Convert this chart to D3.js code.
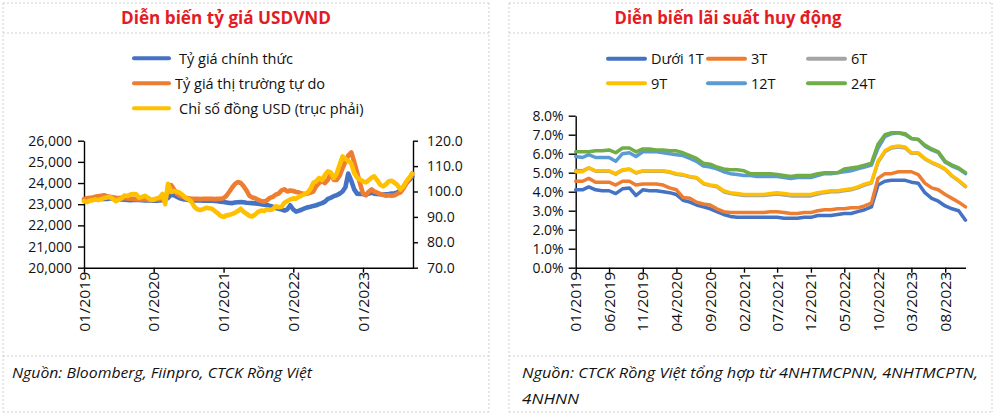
<!DOCTYPE html>
<html>
<head>
<meta charset="utf-8">
<script src="https://cdn.jsdelivr.net/npm/d3@7"></script>
<style>
body { margin: 0; background: #fff; }
svg { display: block; font-family: "Open Sans", sans-serif; }
.axis path, .axis line { stroke: #000; stroke-width: 1.4; }
.axis text { fill: #111; font-size: 14px; font-family: "Open Sans", sans-serif; }
</style>
</head>
<body>
<svg id="chart" width="1000" height="418"></svg>
<script>
// ---- left chart: exchange rate (semi-monthly, 01/2019 - 09/2023)
var fxNames = ["Tỷ giá chính thức", "Tỷ giá thị trường tự do", "Chỉ số đồng USD (trục phải)"];
var fxYearTicks = ["2019-01-01", "2020-01-01", "2021-01-01", "2022-01-01", "2023-01-01"];

var officialRate = [
    23190, 23200, 23210, 23220, 23230, 23240, 23250, 23260, 23250, 23270, 23280, 23260,
    23230, 23220, 23210, 23200, 23190, 23200, 23210, 23200, 23190, 23180, 23180, 23175,
    23170, 23170, 23180, 23190, 23200, 23300, 23450, 23420, 23350, 23280, 23240, 23220,
    23200, 23190, 23180, 23180, 23180, 23170, 23170, 23170, 23160, 23150, 23140, 23120,
    23100, 23080, 23060, 23050, 23080, 23090, 23100, 23090, 23070, 23060, 23050, 23040,
    23020, 23000, 22980, 22960, 22920, 22880, 22820, 22780, 22750, 22700, 22760, 22950,
    22750, 22650, 22700, 22750, 22800, 22850, 22880, 22920, 22950, 23000, 23050, 23120,
    23250, 23300, 23380, 23420, 23500, 23600, 23800, 24450, 24100, 23700, 23500, 23480,
    23480, 23450, 23500, 23550, 23500, 23480, 23470, 23460, 23470, 23480, 23500, 23520,
    23560, 23650, 23800, 24000, 24150, 24300
];
var freeRate = [
    23250, 23280, 23300, 23320, 23350, 23380, 23400, 23420, 23380, 23350, 23330, 23300,
    23290, 23300, 23280, 23270, 23260, 23250, 23240, 23230, 23220, 23220, 23210, 23200,
    23200, 23220, 23230, 23250, 23300, 23600, 23900, 23700, 23500, 23400, 23350, 23300,
    23280, 23260, 23250, 23250, 23240, 23250, 23260, 23250, 23250, 23240, 23250, 23260,
    23280, 23400, 23600, 23800, 23950, 24050, 24000, 23850, 23650, 23400, 23320, 23280,
    23200, 23150, 23120, 23180, 23300, 23350, 23450, 23500, 23650, 23700, 23600, 23650,
    23620, 23580, 23550, 23500, 23480, 23500, 23550, 23600, 23850, 24000, 24100, 24000,
    24150, 24450, 24150, 24150, 24350, 24700, 25000, 25300, 25450, 25000, 24500, 24000,
    23500, 23420, 23600, 23700, 23600, 23550, 23480, 23450, 23400, 23420, 23400, 23420,
    23500, 23560, 23750, 24000, 24200, 24450
];
var usdIndex = [
    96.2, 95.8, 96.4, 96.6, 96.9, 96.6, 97.0, 97.4, 97.6, 97.8, 97.2, 96.2,
    96.8, 97.3, 98.4, 98.2, 98.8, 99.0, 98.9, 97.5, 97.9, 98.3, 97.6, 96.8,
    96.8, 97.3, 97.6, 99.0, 95.0, 103.0, 99.8, 100.2, 99.9, 99.5, 98.6, 97.5,
    96.9, 96.0, 94.0, 93.0, 92.7, 93.0, 93.6, 93.4, 93.2, 92.3, 91.5, 90.4,
    90.0, 90.6, 90.8, 91.2, 91.6, 92.3, 93.2, 92.0, 91.3, 90.4, 90.2, 91.0,
    92.0, 92.5, 92.3, 93.0, 92.7, 93.0, 94.2, 93.8, 94.0, 95.6, 96.2, 96.9,
    97.3, 97.2, 98.0, 98.5, 99.0, 99.5, 101.0, 103.4, 104.0, 105.3, 104.5, 106.5,
    107.9, 107.5, 105.3, 107.0, 110.5, 113.8, 112.8, 112.0, 111.0, 107.3, 105.5, 104.7,
    104.0, 103.6, 104.5, 105.5, 106.0, 104.5, 102.7, 102.0, 102.8, 104.0, 104.2, 103.4,
    102.5, 100.8, 102.0, 104.0, 105.5, 107.0
];

// ---- right chart: deposit rates (monthly, 01/2019 - 11/2023), %
var rateNames = ["Dưới 1T", "3T", "6T", "9T", "12T", "24T"];
var rateColors = ["#4472c4", "#ed7d31", "#a5a5a5", "#ffc000", "#5b9bd5", "#70ad47"];

var rateUnder1 = [
    4.1, 4.1, 4.25, 4.1, 4.05, 4.05, 3.9, 4.15, 4.2, 3.8, 4.1, 4.05,
    4.05, 4.0, 3.95, 3.85, 3.55, 3.45, 3.3, 3.2, 3.1, 2.95, 2.8, 2.7,
    2.65, 2.65, 2.65, 2.65, 2.65, 2.65, 2.65, 2.6, 2.6, 2.6, 2.65, 2.65,
    2.75, 2.75, 2.75, 2.8, 2.85, 2.85, 2.95, 3.05, 3.2, 4.35, 4.55, 4.6,
    4.6, 4.6, 4.5, 4.45, 3.95, 3.65, 3.5, 3.25, 3.1, 3.0, 2.5
];
var rate3 = [
    4.55, 4.55, 4.7, 4.5, 4.5, 4.5, 4.35, 4.55, 4.55, 4.35, 4.4, 4.4,
    4.4, 4.35, 4.2, 4.1, 3.7, 3.65, 3.45, 3.35, 3.3, 3.1, 2.95, 2.9,
    2.9, 2.9, 2.9, 2.9, 2.9, 2.95, 2.95, 2.9, 2.85, 2.85, 2.9, 2.9,
    3.0, 3.05, 3.05, 3.1, 3.1, 3.15, 3.15, 3.25, 3.4, 4.7, 4.95, 4.95,
    5.05, 5.05, 5.05, 4.9, 4.45, 4.2, 4.1, 3.85, 3.65, 3.45, 3.2
];
var rate6 = [
    5.12, 5.1, 5.25, 5.08, 5.08, 5.08, 4.92, 5.13, 5.18, 4.98, 5.08, 5.08,
    5.08, 5.08, 5.02, 4.92, 4.87, 4.77, 4.72, 4.42, 4.32, 4.26, 4.0, 3.9,
    3.85, 3.8, 3.8, 3.8, 3.8, 3.84, 3.88, 3.83, 3.78, 3.77, 3.77, 3.78,
    3.88, 3.95, 4.0, 4.0, 4.05, 4.1, 4.2, 4.35, 4.46, 5.55, 6.1, 6.3,
    6.35, 6.3, 6.02, 6.02, 5.72, 5.52, 5.37, 5.17, 4.82, 4.57, 4.27
];
var rate9 = [
    5.05, 5.05, 5.25, 5.1, 5.1, 5.1, 4.95, 5.15, 5.2, 5.0, 5.1, 5.1,
    5.1, 5.1, 5.05, 4.95, 4.9, 4.8, 4.75, 4.45, 4.35, 4.3, 4.05, 3.95,
    3.9, 3.85, 3.85, 3.85, 3.85, 3.9, 3.95, 3.9, 3.85, 3.85, 3.85, 3.85,
    3.95, 4.0, 4.05, 4.05, 4.1, 4.15, 4.25, 4.4, 4.5, 5.6, 6.15, 6.35,
    6.4, 6.35, 6.05, 6.05, 5.75, 5.55, 5.4, 5.2, 4.85, 4.6, 4.3
];
var rate12 = [
    5.85, 5.8, 5.95, 5.8, 5.8, 5.8, 5.6, 6.0, 6.05, 5.85, 6.1, 6.1,
    6.1, 6.05, 6.0, 5.95, 5.9, 5.75, 5.6, 5.35, 5.3, 5.2, 5.05, 4.95,
    4.9, 4.85, 4.85, 4.8, 4.8, 4.8, 4.8, 4.75, 4.7, 4.75, 4.75, 4.75,
    4.85, 4.95, 4.95, 5.0, 5.05, 5.1, 5.2, 5.3, 5.4, 6.3, 6.9, 7.05,
    7.1, 7.0, 6.8, 6.75, 6.4, 6.2, 6.05, 5.55, 5.35, 5.2, 4.95
];
var rate24 = [
    6.1, 6.1, 6.1, 6.15, 6.15, 6.2, 6.05, 6.3, 6.3, 6.1, 6.25, 6.25,
    6.2, 6.2, 6.15, 6.15, 6.05, 5.9, 5.75, 5.5, 5.45, 5.3, 5.2, 5.15,
    5.15, 5.1, 4.95, 4.95, 4.95, 4.95, 4.9, 4.85, 4.8, 4.85, 4.85, 4.85,
    4.95, 5.0, 5.0, 5.0, 5.2, 5.25, 5.3, 5.4, 5.5, 6.5, 7.0, 7.1,
    7.1, 7.05, 6.8, 6.75, 6.45, 6.25, 6.1, 5.6, 5.4, 5.25, 5.0
];

var svg = d3.select("#chart");
var parse = d3.timeParse("%Y-%m-%d");
var fmtMonth = d3.timeFormat("%m/%Y");

// table borders
var grid = svg.append("g")
    .attr("stroke", "#cfcfcf")
    .attr("stroke-width", 1)
    .attr("stroke-dasharray", "2,2");
[[3, 489], [509, 992]].forEach(function (p) {
    [3, 33, 356, 412].forEach(function (y) {
        grid.append("line").attr("x1", p[0]).attr("x2", p[1]).attr("y1", y).attr("y2", y);
    });
    p.forEach(function (x) {
        grid.append("line").attr("x1", x).attr("x2", x).attr("y1", 3).attr("y2", 412);
    });
});

// titles
svg.append("text").attr("x", 226).attr("y", 24)
    .attr("text-anchor", "middle").attr("font-size", 17).attr("font-weight", "bold")
    .attr("fill", "#e31b23").attr("textLength", 210).attr("lengthAdjust", "spacingAndGlyphs")
    .text("Diễn biến tỷ giá USDVND");
svg.append("text").attr("x", 728).attr("y", 24)
    .attr("text-anchor", "middle").attr("font-size", 17).attr("font-weight", "bold")
    .attr("fill", "#e31b23").attr("textLength", 227).attr("lengthAdjust", "spacingAndGlyphs")
    .text("Diễn biến lãi suất huy động");

// footers
function footer(x, y, len, str) {
    svg.append("text").attr("x", x).attr("y", y)
        .attr("font-size", 14).attr("font-style", "italic").attr("fill", "#111")
        .attr("textLength", len).attr("lengthAdjust", "spacingAndGlyphs")
        .text(str);
}
footer(12, 378, 300, "Nguồn: Bloomberg, Fiinpro, CTCK Rồng Việt");
footer(522, 378, 456, "Nguồn:  CTCK Rồng Việt tổng hợp từ 4NHTMCPNN, 4NHTMCPTN,");
footer(522, 404, 57, "4NHNN");

// ================= left chart
var fxMonths = d3.timeMonth.range(new Date(2019, 0, 1), new Date(2023, 8, 1));
fxMonths.push(new Date(2023, 8, 1));
var fxDates = [];
fxMonths.forEach(function (m) { fxDates.push(m, d3.timeDay.offset(m, 15)); });

var xFx = d3.scaleTime().domain([parse("2019-01-01"), parse("2023-09-20")]).range([84, 413]);
var yVnd = d3.scaleLinear().domain([20000, 26000]).range([267.7, 140.7]);
var yUsd = d3.scaleLinear().domain([70, 120]).range([267.7, 140.7]);

function rotateLabels(g) {
    g.selectAll("text")
        .attr("transform", "rotate(-90)")
        .attr("x", -4).attr("y", 0).attr("dy", "0.36em")
        .attr("text-anchor", "end")
        .attr("textLength", 60).attr("lengthAdjust", "spacingAndGlyphs");
}

svg.append("g").attr("class", "axis")
    .attr("transform", "translate(84,0)")
    .call(d3.axisLeft(yVnd).tickValues(d3.range(20000, 26001, 1000))
        .tickFormat(d3.format(",")).tickSize(6).tickSizeOuter(0).tickPadding(6));
svg.append("g").attr("class", "axis")
    .attr("transform", "translate(413,0)")
    .call(d3.axisRight(yUsd).tickValues(d3.range(70, 121, 10))
        .tickFormat(d3.format(".1f")).tickSize(5).tickSizeOuter(0).tickPadding(9));
svg.append("g").attr("class", "axis")
    .attr("transform", "translate(0,267.7)")
    .call(d3.axisBottom(xFx).tickValues(fxYearTicks.map(parse))
        .tickFormat(fmtMonth).tickSize(5).tickSizeOuter(0))
    .call(rotateLabels);

var fxSeries = [
    { values: officialRate, y: yVnd, color: "#4472c4" },
    { values: freeRate, y: yVnd, color: "#ed7d31" },
    { values: usdIndex, y: yUsd, color: "#ffc000" }
];
fxSeries.forEach(function (s) {
    var line = d3.line()
        .x(function (d, i) { return xFx(fxDates[i]); })
        .y(function (d) { return s.y(d); });
    svg.append("path").datum(s.values)
        .attr("fill", "none").attr("stroke", s.color)
        .attr("stroke-width", 4.6).attr("stroke-linejoin", "round").attr("stroke-linecap", "round")
        .attr("d", line);
});

// left legend
var fxLegend = svg.append("g");
fxNames.forEach(function (name, i) {
    var y = 58.3 + i * 25;
    fxLegend.append("line").attr("x1", 134).attr("x2", 169).attr("y1", y).attr("y2", y)
        .attr("stroke", fxSeries[i].color).attr("stroke-width", 4).attr("stroke-linecap", "round");
    fxLegend.append("text").attr("x", i == 1 ? 175 : 179).attr("y", y + 5.5)
        .attr("font-size", 14.5).attr("fill", "#111")
        .text(name);
});

// ================= right chart
var rateDates = d3.range(rateUnder1.length).map(function (m) {
    return d3.timeMonth.offset(new Date(2019, 0, 1), m);
});
var xRate = d3.scaleTime().domain([rateDates[0], rateDates[rateDates.length - 1]]).range([575.7, 965.5]);
var yRate = d3.scaleLinear().domain([0, 8]).range([267.7, 115.7]);

svg.append("g").attr("class", "axis")
    .attr("transform", "translate(575.7,0)")
    .call(d3.axisLeft(yRate).tickValues(d3.range(0, 8.01, 1))
        .tickFormat(function (d) { return d3.format(".1f")(d) + "%"; })
        .tickSize(7).tickSizeOuter(0).tickPadding(5));
svg.append("g").attr("class", "axis")
    .attr("transform", "translate(0,267.7)")
    .call(d3.axisBottom(xRate).tickValues(d3.range(0, 56, 5).map(function (m) { return rateDates[m]; }))
        .tickFormat(fmtMonth).tickSize(5).tickSizeOuter(0))
    .call(rotateLabels);

var rateSeries = [rateUnder1, rate3, rate6, rate9, rate12, rate24];
var rateLine = d3.line()
    .x(function (d, i) { return xRate(rateDates[i]); })
    .y(function (d) { return yRate(d); });
rateSeries.forEach(function (vals, k) {
    svg.append("path").datum(vals)
        .attr("fill", "none").attr("stroke", rateColors[k])
        .attr("stroke-width", 3.5).attr("stroke-linejoin", "round").attr("stroke-linecap", "round")
        .attr("d", rateLine);
});

// right legend
var rateLegend = svg.append("g");
rateNames.forEach(function (name, i) {
    var col = i % 3, row = Math.floor(i / 3);
    var x = 608 + col * 100, y = 58.8 + row * 24.5;
    rateLegend.append("line").attr("x1", x).attr("x2", x + 37).attr("y1", y).attr("y2", y)
        .attr("stroke", rateColors[i]).attr("stroke-width", 4).attr("stroke-linecap", "round");
    rateLegend.append("text").attr("x", x + 43).attr("y", y + 5.5)
        .attr("font-size", 14.5).attr("fill", "#111")
        .text(name);
});
</script>
</body>
</html>
